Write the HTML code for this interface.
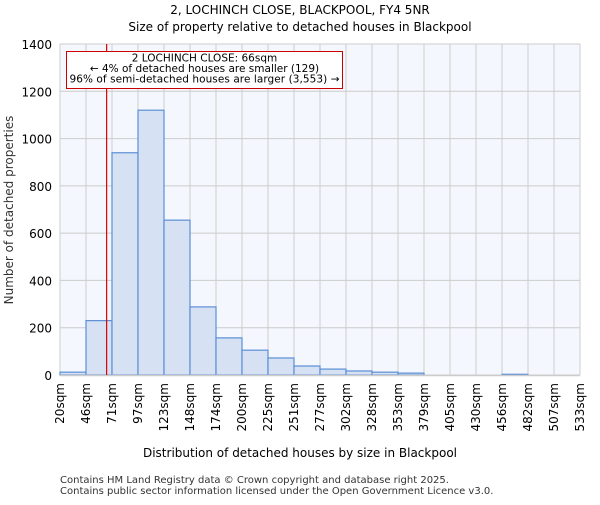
<!DOCTYPE html>
<html><head><meta charset="utf-8"><style>body{margin:0;background:#fff}svg{font-family:"DejaVu Sans","Liberation Sans",sans-serif}</style></head>
<body>
<svg width="600" height="500" id="c">
<text x="300" y="14" text-anchor="middle" font-size="12">2, LOCHINCH CLOSE, BLACKPOOL, FY4 5NR</text>
<text x="300" y="31" text-anchor="middle" font-size="12">Size of property relative to detached houses in Blackpool</text>
<rect x="60" y="44" width="520" height="331" fill="#f4f7fd"/>
<g id="grid"></g><g id="bars"></g><g id="ticks"></g>
<text x="300" y="457" text-anchor="middle" font-size="12">Distribution of detached houses by size in Blackpool</text>
<text transform="translate(13,210) rotate(-90)" text-anchor="middle" font-size="12" fill="#333">Number of detached properties</text>
<text x="60" y="483" font-size="10" fill="#333">Contains HM Land Registry data © Crown copyright and database right 2025.</text>
<text x="60" y="494" font-size="10" fill="#333">Contains public sector information licensed under the Open Government Licence v3.0.</text>
</svg>
<script>
const categories=["20sqm","46sqm","71sqm","97sqm","123sqm","148sqm","174sqm","200sqm","225sqm","251sqm","277sqm","302sqm","328sqm","353sqm","379sqm","405sqm","430sqm","456sqm","482sqm","507sqm","533sqm"];
const counts=[12,230,940,1120,655,288,157,105,72,38,25,17,12,8,0,0,0,3,0,0];
const yTicks=[0,200,400,600,800,1000,1200,1400];
const binStart=20, binWidth=25.65, subjectSize=66;
const X0=60,X1=580,Y0=375,Y1=44,YMAX=1400;
const ns="http://www.w3.org/2000/svg";
const bw=(X1-X0)/counts.length;
const xs=v=>X0+(v-binStart)/binWidth*bw;
const ys=v=>Y0-v/YMAX*(Y0-Y1);
function mk(p,t,a){const e=document.createElementNS(ns,t);for(const k in a)e.setAttribute(k,a[k]);p.appendChild(e);return e;}
const g=document.getElementById('grid'),b=document.getElementById('bars'),t=document.getElementById('ticks'),svg=document.getElementById('c');
yTicks.forEach(v=>{
 const l=mk(g,'line',{x1:X0,x2:X1,y1:ys(v),y2:ys(v),stroke:'#ccc','stroke-width':1});
 
 
 const tx=mk(t,'text',{x:X0-8,y:ys(v)+5,'text-anchor':'end','font-size':12});
 tx.textContent=v;
 
 
});
categories.forEach((c,i)=>{
 const x=X0+i*bw;
 const l=mk(g,'line',{x1:x,x2:x,y1:Y1,y2:Y0,stroke:'#ccc','stroke-width':1});
 
 
 const tx=mk(t,'text',{transform:`translate(${x+4},${Y0+8}) rotate(-90)`,'text-anchor':'end','font-size':12});
 tx.textContent=c;
 
 
});
counts.forEach((v,i)=>{
 if(v<=0)return;
 const r=mk(b,'rect',{x:X0+i*bw,y:ys(v),width:bw,height:Y0-ys(v),fill:'#d6e1f3',stroke:'#5b8fd6','stroke-width':1.2});
 
 
});
const ax=mk(svg,'line',{x1:X0,x2:X1,y1:Y0+0.5,y2:Y0+0.5,stroke:'#ccc','stroke-width':1.5});


const sx=xs(subjectSize);
const rl=mk(svg,'line',{x1:sx,x2:sx,y1:Y1,y2:Y0,stroke:'#d00','stroke-width':1.2});


const box=mk(svg,'rect',{x:66.5,y:51.5,width:276,height:37,fill:'#fff',stroke:'#c00','stroke-width':1});


["2 LOCHINCH CLOSE: 66sqm","← 4% of detached houses are smaller (129)","96% of semi-detached houses are larger (3,553) →"].forEach((s,i)=>{
 const tx=mk(svg,'text',{x:204.5,y:61.5+i*10.5,'text-anchor':'middle','font-size':10.5,textLength:i==2?270:null});
 if(i!=2)tx.removeAttribute('textLength');
 tx.textContent=s;
 
 
});
</script>
</body></html>
